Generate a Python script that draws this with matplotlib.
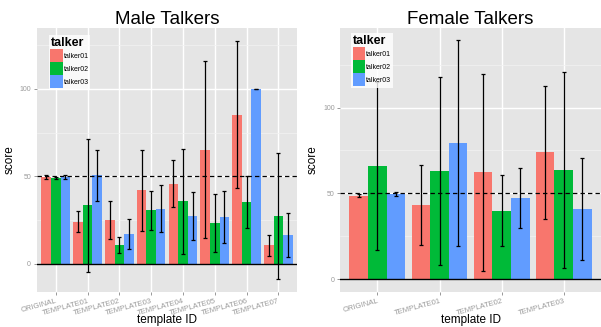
import numpy as np
import matplotlib
matplotlib.use('Agg')
import matplotlib.pyplot as plt
from matplotlib.patches import Patch
from matplotlib.ticker import MultipleLocator

plt.rcParams['font.family'] = ['Liberation Sans', 'DejaVu Sans']

talkers = ['talker01', 'talker02', 'talker03']
colors = ['#F8766D', '#00BA38', '#619CFF']

male_ids = ['ORIGINAL', 'TEMPLATE01', 'TEMPLATE02', 'TEMPLATE03',
            'TEMPLATE04', 'TEMPLATE05', 'TEMPLATE06', 'TEMPLATE07']
male_t1 = [49.5, 24.0, 25.0, 42.0, 45.8, 65.3, 85.2, 10.6]
male_t1_err = [1.2, 6.0, 11.0, 23.3, 13.4, 50.5, 42.0, 6.0]
male_t2 = [49.0, 33.5, 10.6, 30.7, 35.8, 23.3, 35.2, 27.3]
male_t2_err = [0.4, 38.0, 4.5, 11.2, 30.0, 16.7, 14.8, 36.0]
male_t3 = [49.5, 50.5, 17.0, 31.6, 27.3, 26.7, 100.0, 16.5]
male_t3_err = [1.0, 14.5, 8.6, 13.5, 13.5, 15.0, 0.0, 12.8]

female_ids = ['ORIGINAL', 'TEMPLATE01', 'TEMPLATE02', 'TEMPLATE03']
female_t1 = [48.7, 43.2, 62.2, 73.9]
female_t1_err = [1.0, 23.6, 57.5, 39.0]
female_t2 = [65.9, 63.0, 39.7, 63.6]
female_t2_err = [49.0, 55.0, 20.7, 57.0]
female_t3 = [49.8, 79.2, 47.3, 40.8]
female_t3_err = [1.2, 60.0, 17.4, 30.0]


def gg_panel(ax, ids, series, errs, title, ylim, leg_xy):
    ax.set_facecolor('#E5E5E5')
    for s in ax.spines.values():
        s.set_visible(False)
    x = np.arange(1, len(ids) + 1)
    w = 0.3
    ax.set_axisbelow(True)
    for i, (vals, err) in enumerate(zip(series, errs)):
        xs = x + (i - 1) * w
        ax.bar(xs, vals, width=w, color=colors[i], zorder=2)
        ax.errorbar(xs, vals, yerr=err, fmt='none', ecolor='black',
                    elinewidth=0.9, capsize=1.6, capthick=0.9, zorder=4)
    ax.axhline(0, color='black', lw=1.0, zorder=3)
    ax.axhline(50, color='black', lw=0.9, ls=(0, (3.5, 2.5)), zorder=3)
    ax.set_xlim(0.4, len(ids) + 0.6)
    ax.set_ylim(*ylim)
    ax.set_xticks(x)
    ax.set_xticklabels(ids, rotation=15, ha='right', rotation_mode='anchor',
                       fontsize=5.5, color='#9A9A9A')
    ax.yaxis.set_major_locator(MultipleLocator(50))
    ax.yaxis.set_minor_locator(MultipleLocator(25))
    ax.tick_params(axis='both', which='major', length=2.5, color='#888888',
                   width=0.6, pad=1.5)
    ax.tick_params(axis='y', labelsize=5, labelcolor='#9A9A9A')
    ax.tick_params(axis='y', which='minor', length=0)
    ax.grid(True, which='major', color='white', lw=1.0, zorder=0)
    ax.grid(True, which='minor', axis='y', color='#F2F2F2', lw=0.5, zorder=0)
    ax.set_title(title, fontsize=13.5, pad=3)
    ax.set_xlabel('template ID', fontsize=8.5, va='bottom')
    ax.xaxis.set_label_coords(0.5, -0.13)
    ax.set_ylabel('score', fontsize=8.5, labelpad=3)
    handles = [Patch(facecolor=c, edgecolor='none') for c in colors]
    leg = ax.legend(handles, talkers, title='talker', loc='upper left',
                    bbox_to_anchor=leg_xy, fontsize=5,
                    title_fontsize=9, frameon=True, fancybox=False,
                    handlelength=1.8, handleheight=2.5, labelspacing=0,
                    handletextpad=0.1, borderpad=0.25, borderaxespad=0,
                    alignment='left')
    leg.get_title().set_fontweight('bold')
    leg.get_frame().set_facecolor('white')
    leg.get_frame().set_edgecolor('none')
    leg.get_frame().set_linewidth(0)
    leg.set_zorder(5)


fig = plt.figure(figsize=(6.01, 3.27), dpi=100)
ax1 = fig.add_axes([0.061, 0.108, 0.434, 0.806])
ax2 = fig.add_axes([0.566, 0.108, 0.434, 0.806])

gg_panel(ax1, male_ids, [male_t1, male_t2, male_t3],
         [male_t1_err, male_t2_err, male_t3_err], 'Male Talkers',
         (-15.9, 134.7), (0.046, 0.973))
gg_panel(ax2, female_ids, [female_t1, female_t2, female_t3],
         [female_t1_err, female_t2_err, female_t3_err], 'Female Talkers',
         (-7.4, 146.4), (0.041, 0.98))

fig.savefig('out.png', dpi=100)
